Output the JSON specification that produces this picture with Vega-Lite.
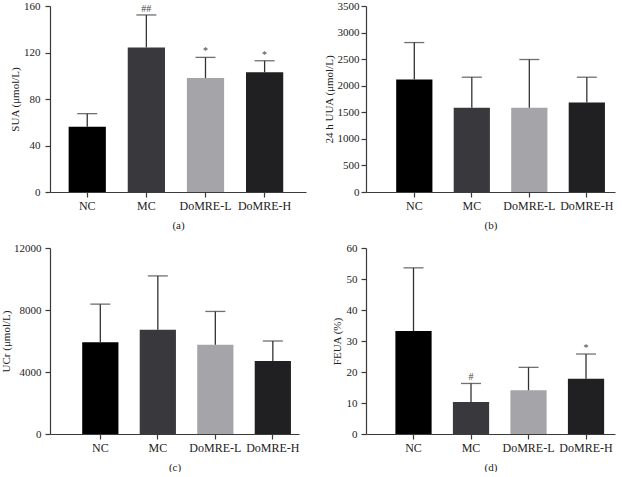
{
  "$schema": "https://vega.github.io/schema/vega-lite/v6.json",
  "background": "white",
  "padding": {"left": 0, "top": 0, "right": 5, "bottom": 0},
  "spacing": {"row": 12, "column": 17},
  "config": {
    "view": {"stroke": null},
    "font": "Liberation Serif",
    "axis": {
      "grid": false,
      "domainColor": "#3a3a3a",
      "tickColor": "#3a3a3a",
      "domainWidth": 1.2,
      "tickWidth": 1.2,
      "tickSize": 5,
      "labelFont": "Liberation Serif",
      "titleFont": "Liberation Serif",
      "labelColor": "#222",
      "titleColor": "#222",
      "labelFontSize": 11,
      "titleFontSize": 11,
      "titleFontWeight": "normal",
      "labelOverlap": false
    }
  },
  "datasets": {
    "d": [
      {"panel": "a", "group": "NC", "mean": 56.2, "upper": 67.4, "sig": ""},
      {"panel": "a", "group": "MC", "mean": 124.4, "upper": 152.3, "sig": "##"},
      {"panel": "a", "group": "DoMRE-L", "mean": 98, "upper": 115.8, "sig": "*"},
      {"panel": "a", "group": "DoMRE-H", "mean": 103, "upper": 112.9, "sig": "*"},
      {"panel": "b", "group": "NC", "mean": 2117, "upper": 2812, "sig": ""},
      {"panel": "b", "group": "MC", "mean": 1584, "upper": 2160, "sig": ""},
      {"panel": "b", "group": "DoMRE-L", "mean": 1584, "upper": 2493, "sig": ""},
      {"panel": "b", "group": "DoMRE-H", "mean": 1685, "upper": 2160, "sig": ""},
      {"panel": "c", "group": "NC", "mean": 5914, "upper": 8379, "sig": ""},
      {"panel": "c", "group": "MC", "mean": 6729, "upper": 10200, "sig": ""},
      {"panel": "c", "group": "DoMRE-L", "mean": 5764, "upper": 7907, "sig": ""},
      {"panel": "c", "group": "DoMRE-H", "mean": 4714, "upper": 6000, "sig": ""},
      {"panel": "d", "group": "NC", "mean": 33.2, "upper": 53.6, "sig": ""},
      {"panel": "d", "group": "MC", "mean": 10.3, "upper": 16.3, "sig": "#"},
      {"panel": "d", "group": "DoMRE-L", "mean": 14.1, "upper": 21.5, "sig": ""},
      {"panel": "d", "group": "DoMRE-H", "mean": 17.8, "upper": 25.8, "sig": "*"}
    ]
  },
  "columns": 2,
  "concat": [
    {
      "width": 256, "height": 186,
      "data": {"name": "d"},
      "transform": [{"filter": "datum.panel === 'a'"}],
      "encoding": {
        "x": {"field": "group", "type": "nominal", "sort": ["NC", "MC", "DoMRE-L", "DoMRE-H"],
          "scale": {"paddingInner": 0.37, "paddingOuter": 0.35, "align": 0.45},
          "axis": {"title": "(a)", "labelAngle": 0, "labelFontSize": 12, "labelPadding": 3, "titlePadding": 8}},
        "y": {"field": "mean", "type": "quantitative", "scale": {"domain": [0, 160]},
          "axis": {"title": "SUA (μmol/L)", "values": [0, 40, 80, 120, 160], "format": "d", "labelOverlap": false, "labelPadding": 5, "titlePadding": 3}}
      },
      "layer": [
        {"mark": {"type": "bar"},
         "encoding": {
           "color": {"field": "group", "type": "nominal", "legend": null,
             "scale": {"domain": ["NC", "MC", "DoMRE-L", "DoMRE-H"], "range": ["#000000", "#39383c", "#a5a4a8", "#201f21"]}}}},
        {"mark": {"type": "rule", "color": "#333", "strokeWidth": 1.3},
         "encoding": {"y2": {"field": "upper"}}},
        {"mark": {"type": "tick", "color": "#333", "size": 20, "thickness": 1.3},
         "encoding": {"y": {"field": "upper", "type": "quantitative"}}},
        {"mark": {"type": "text", "font": "Liberation Serif", "fontSize": 10, "color": "#444", "dy": -6},
         "encoding": {"y": {"field": "upper", "type": "quantitative"}, "text": {"field": "sig"}}}
      ]
    },
    {
      "width": 249, "height": 186,
      "data": {"name": "d"},
      "transform": [{"filter": "datum.panel === 'b'"}],
      "encoding": {
        "x": {"field": "group", "type": "nominal", "sort": ["NC", "MC", "DoMRE-L", "DoMRE-H"],
          "scale": {"paddingInner": 0.37, "paddingOuter": 0.35, "align": 0.75},
          "axis": {"title": "(b)", "labelAngle": 0, "labelFontSize": 12, "labelPadding": 3, "titlePadding": 8}},
        "y": {"field": "mean", "type": "quantitative", "scale": {"domain": [0, 3500]},
          "axis": {"title": "24 h UUA (μmol/L)", "values": [0, 500, 1000, 1500, 2000, 2500, 3000, 3500], "format": "d", "labelOverlap": false, "labelPadding": 2, "titlePadding": 3}}
      },
      "layer": [
        {"mark": {"type": "bar"},
         "encoding": {
           "color": {"field": "group", "type": "nominal", "legend": null,
             "scale": {"domain": ["NC", "MC", "DoMRE-L", "DoMRE-H"], "range": ["#000000", "#39383c", "#a5a4a8", "#201f21"]}}}},
        {"mark": {"type": "rule", "color": "#333", "strokeWidth": 1.3},
         "encoding": {"y2": {"field": "upper"}}},
        {"mark": {"type": "tick", "color": "#333", "size": 20, "thickness": 1.3},
         "encoding": {"y": {"field": "upper", "type": "quantitative"}}}
      ]
    },
    {
      "width": 249, "height": 186,
      "data": {"name": "d"},
      "transform": [{"filter": "datum.panel === 'c'"}],
      "encoding": {
        "x": {"field": "group", "type": "nominal", "sort": ["NC", "MC", "DoMRE-L", "DoMRE-H"],
          "scale": {"paddingInner": 0.37, "paddingOuter": 0.35, "align": 0.8},
          "axis": {"title": "(c)", "labelAngle": 0, "labelFontSize": 12, "labelPadding": 3, "titlePadding": 8}},
        "y": {"field": "mean", "type": "quantitative", "scale": {"domain": [0, 12000]},
          "axis": {"title": "UCr (μmol/L)", "values": [0, 4000, 8000, 12000], "format": "d", "labelOverlap": false, "labelPadding": 4, "titlePadding": 2}}
      },
      "layer": [
        {"mark": {"type": "bar"},
         "encoding": {
           "color": {"field": "group", "type": "nominal", "legend": null,
             "scale": {"domain": ["NC", "MC", "DoMRE-L", "DoMRE-H"], "range": ["#000000", "#39383c", "#a5a4a8", "#201f21"]}}}},
        {"mark": {"type": "rule", "color": "#333", "strokeWidth": 1.3},
         "encoding": {"y2": {"field": "upper"}}},
        {"mark": {"type": "tick", "color": "#333", "size": 20, "thickness": 1.3},
         "encoding": {"y": {"field": "upper", "type": "quantitative"}}}
      ]
    },
    {
      "width": 249, "height": 186,
      "data": {"name": "d"},
      "transform": [{"filter": "datum.panel === 'd'"}],
      "encoding": {
        "x": {"field": "group", "type": "nominal", "sort": ["NC", "MC", "DoMRE-L", "DoMRE-H"],
          "scale": {"paddingInner": 0.37, "paddingOuter": 0.35, "align": 0.73},
          "axis": {"title": "(d)", "labelAngle": 0, "labelFontSize": 12, "labelPadding": 3, "titlePadding": 8}},
        "y": {"field": "mean", "type": "quantitative", "scale": {"domain": [0, 60]},
          "axis": {"title": "FEUA (%)", "values": [0, 10, 20, 30, 40, 50, 60], "format": "d", "labelOverlap": false, "labelPadding": 4, "titlePadding": 4}}
      },
      "layer": [
        {"mark": {"type": "bar"},
         "encoding": {
           "color": {"field": "group", "type": "nominal", "legend": null,
             "scale": {"domain": ["NC", "MC", "DoMRE-L", "DoMRE-H"], "range": ["#000000", "#39383c", "#a5a4a8", "#201f21"]}}}},
        {"mark": {"type": "rule", "color": "#333", "strokeWidth": 1.3},
         "encoding": {"y2": {"field": "upper"}}},
        {"mark": {"type": "tick", "color": "#333", "size": 20, "thickness": 1.3},
         "encoding": {"y": {"field": "upper", "type": "quantitative"}}},
        {"mark": {"type": "text", "font": "Liberation Serif", "fontSize": 10, "color": "#444", "dy": -6},
         "encoding": {"y": {"field": "upper", "type": "quantitative"}, "text": {"field": "sig"}}}
      ]
    }
  ]
}
